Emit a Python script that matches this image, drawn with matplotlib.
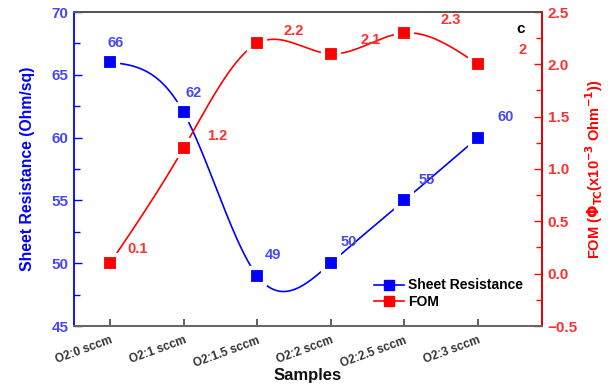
import numpy as np
import matplotlib
matplotlib.use('Agg')
import matplotlib.pyplot as plt
from matplotlib.ticker import MultipleLocator
from matplotlib.lines import Line2D

samples = ['O2:0 sccm', 'O2:1 sccm', 'O2:1.5 sccm', 'O2:2 sccm', 'O2:2.5 sccm', 'O2:3 sccm']
sheet_res = [66, 62, 49, 50, 55, 60]
fom = [0.1, 1.2, 2.2, 2.1, 2.3, 2.0]
sheet_labels = ['66', '62', '49', '50', '55', '60']
fom_labels = ['0.1', '1.2', '2.2', '2.1', '2.3', '2']

plt.rcParams['font.family'] = ['Liberation Sans', 'DejaVu Sans']
plt.rcParams['font.weight'] = 'bold'
plt.rcParams['mathtext.default'] = 'bf'

BLUE = '#0000ff'
RED = '#ff0000'
BLUE_T = '#4848f0'
RED_T = '#ff3030'


def natural_spline(x, y, n=400):
    x = np.asarray(x, float)
    y = np.asarray(y, float)
    m = len(x)
    h = np.diff(x)
    A = np.zeros((m, m))
    b = np.zeros(m)
    A[0, 0] = 1
    A[-1, -1] = 1
    for i in range(1, m - 1):
        A[i, i - 1] = h[i - 1]
        A[i, i] = 2 * (h[i - 1] + h[i])
        A[i, i + 1] = h[i]
        b[i] = 6 * ((y[i + 1] - y[i]) / h[i] - (y[i] - y[i - 1]) / h[i - 1])
    M = np.linalg.solve(A, b)
    xs = np.linspace(x[0], x[-1], n)
    ys = np.empty_like(xs)
    for k, xv in enumerate(xs):
        i = min(np.searchsorted(x, xv, side='right') - 1, m - 2)
        t1 = x[i + 1] - xv
        t0 = xv - x[i]
        ys[k] = (M[i] * t1 ** 3 / (6 * h[i]) + M[i + 1] * t0 ** 3 / (6 * h[i])
                 + (y[i] / h[i] - M[i] * h[i] / 6) * t1
                 + (y[i + 1] / h[i] - M[i + 1] * h[i] / 6) * t0)
    return xs, ys


xpos = np.arange(len(samples))

fig = plt.figure(figsize=(6.14, 3.87), dpi=100)
ax = fig.add_axes([74 / 614, 1 - 326 / 387, (542 - 74) / 614, (326 - 12) / 387])
ax.set_xlim(-0.49, 5.87)
ax.set_ylim(45, 70)
ax2 = ax.twinx()
ax2.set_ylim(-0.5, 2.5)

# Sheet resistance
sx, sy = natural_spline(xpos, sheet_res)
ax.plot(sx, sy, color=BLUE, lw=1.2, zorder=2)
ax.plot(xpos, sheet_res, ls='none', marker='s', ms=11, mfc=BLUE, mec='white', mew=3, zorder=3)

# FOM
fx, fy = natural_spline(xpos, fom)
ax2.plot(fx, fy, color=RED, lw=1.2, zorder=2)
ax2.plot(xpos, fom, ls='none', marker='s', ms=11, mfc=RED, mec='white', mew=3, zorder=3)

blue_off = [(4, 14), (7, 14), (11, 15), (13, 15), (16, 15), (20, 15)]
red_off = [(20, 10), (24, 9), (26, 9), (29, 10), (33, 9), (32, 10)]
for i in range(len(samples)):
    ax.annotate(sheet_labels[i], (xpos[i], sheet_res[i]), xytext=blue_off[i], textcoords='offset points',
                ha='center', va='center', color=BLUE_T, fontsize=10.5, fontweight='bold', zorder=5)
    ax2.annotate(fom_labels[i], (xpos[i], fom[i]), xytext=red_off[i], textcoords='offset points',
                 ha='center', va='center', color=RED_T, fontsize=10.5, fontweight='bold', zorder=5)

# Axes styling
ax.set_xticks(xpos)
ax.set_xticklabels(samples, rotation=20, ha='right', va='top', rotation_mode='anchor',
                   fontsize=8.5, color='#333333', fontweight='bold')
ax.tick_params(axis='x', direction='in', length=5, width=1.2, color='#444444', pad=6)
ax.yaxis.set_major_locator(MultipleLocator(5))
ax.yaxis.set_minor_locator(MultipleLocator(2.5))
ax.tick_params(axis='y', which='major', direction='in', length=6, width=1, color=BLUE,
               labelcolor=BLUE_T, labelsize=11, pad=4)
ax.tick_params(axis='y', which='minor', direction='in', length=4, width=1, color=BLUE)
ax2.yaxis.set_major_locator(MultipleLocator(0.5))
ax2.yaxis.set_minor_locator(MultipleLocator(0.25))
ax2.tick_params(axis='y', which='major', direction='in', length=6, width=1, color=RED,
                labelcolor=RED_T, labelsize=11, pad=4)
ax2.tick_params(axis='y', which='minor', direction='in', length=4, width=1, color=RED)
for lab in ax.get_yticklabels() + ax2.get_yticklabels():
    lab.set_fontweight('bold')

ax.spines['left'].set_color(BLUE)
ax.spines['bottom'].set_color('#666666')
ax.spines['top'].set_color('#555555')
ax2.spines['left'].set_visible(False)
ax2.spines['right'].set_color(RED)
ax2.spines['bottom'].set_color('#666666')
ax2.spines['top'].set_color('#555555')
for sp in list(ax.spines.values()) + list(ax2.spines.values()):
    sp.set_linewidth(1.3)

ax.set_xlabel('Samples', fontsize=12, fontweight='bold', color='#111111', labelpad=-1)
ax.set_ylabel('Sheet Resistance (Ohm/sq)', fontsize=11.3, fontweight='bold', color=BLUE, labelpad=12)
ax2.set_ylabel(r'FOM ($\Phi_{TC}$(x10$^{-3}$ Ohm$^{-1}$))', fontsize=10.5, fontweight='bold',
               color=RED, labelpad=4)

ax2.text(0.955, 0.946, 'c', transform=ax.transAxes, fontsize=11, fontweight='bold', color='black',
         ha='center', va='center')

h1 = Line2D([], [], color=BLUE, lw=1.2, marker='s', ms=7, mfc=BLUE, mec=BLUE)
h2 = Line2D([], [], color=RED, lw=1.2, marker='s', ms=7, mfc=RED, mec=RED)
ax2.legend([h1, h2], ['Sheet Resistance', 'FOM'], loc='lower right', bbox_to_anchor=(0.972, 0.036),
           frameon=False, fontsize=10, handlelength=2.2, handletextpad=0.3, labelspacing=0.2,
           borderaxespad=0)

fig.savefig('out.png', dpi=100)
